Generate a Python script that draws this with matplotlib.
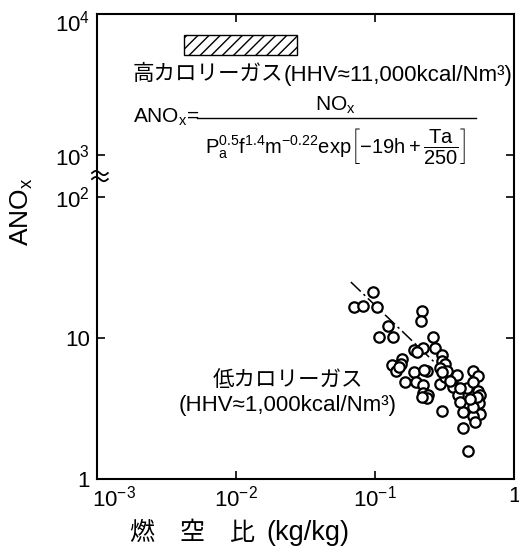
import numpy as np
import matplotlib
matplotlib.use("Agg")
import matplotlib.pyplot as plt
from matplotlib.patches import Rectangle
from matplotlib.ticker import NullLocator
from matplotlib.transforms import ScaledTranslation

plt.rcParams["font.family"] = ["Liberation Sans", "Noto Sans CJK JP"]
plt.rcParams["mathtext.fontset"] = "custom"
plt.rcParams["mathtext.rm"] = "Liberation Sans"
plt.rcParams["mathtext.it"] = "Liberation Sans"
plt.rcParams["mathtext.bf"] = "Liberation Sans:bold"
plt.rcParams["hatch.linewidth"] = 1.0

# --- data -------------------------------------------------------------
# low-calorie gas measurements: fuel/air ratio (kg/kg) vs ANOx
fuel_air = [0.097, 0.071, 0.082, 0.104, 0.125, 0.107, 0.134, 0.219, 0.215,
            0.262, 0.191, 0.223, 0.270, 0.302, 0.302, 0.319, 0.294, 0.156,
            0.132, 0.153, 0.142, 0.164, 0.191, 0.235, 0.197, 0.222, 0.220,
            0.242, 0.235, 0.294, 0.319, 0.356, 0.366, 0.391, 0.397, 0.457,
            0.510, 0.554, 0.510, 0.554, 0.569, 0.562, 0.569, 0.510, 0.524,
            0.428, 0.302, 0.428, 0.465, 0.510, 0.331, 0.409, 0.540, 0.482,
            0.409, 0.302, 0.217, 0.200, 0.148, 0.226, 0.347]
anox = [21.3, 16.6, 16.8, 16.6, 12.1, 10.1, 10.1, 15.5, 13.2,
        10.2, 8.22, 8.44, 8.54, 7.57, 6.84, 6.54, 6.12, 7.15,
        6.47, 6.54, 5.80, 4.85, 5.70, 5.80, 4.85, 4.64, 4.11,
        3.97, 3.76, 4.69, 5.33, 4.91, 4.52, 5.48, 3.93, 4.44,
        5.80, 5.42, 4.85, 4.20, 3.93, 3.48, 2.90, 2.82, 2.52,
        2.98, 3.06, 2.29, 1.59, 3.24, 5.80, 4.39, 3.83, 3.72,
        3.52, 5.73, 3.83, 7.95, 6.20, 5.90, 4.96]

# regression line through the low-calorie data
fit_x = [0.067, 0.63]
fit_y = [25.0, 3.0]

# high-calorie gas range (hatched band)
high_cal_x = [0.0042, 0.0275]
high_cal_y = [5100, 7100]

x_ticks = [1e-3, 1e-2, 1e-1, 1]
x_tick_labels = [r"$10^{-3}$", r"$10^{-2}$", r"$10^{-1}$", "1"]
y_ticks = [1, 10, 100, 1000, 10000]
y_tick_labels = ["1", "10", r"$10^2$", r"$10^3$", r"$10^4$"]

# --- broken log scale: the 10^2..10^3 decade is squeezed ---------------
SQUEEZE = 0.3


def _fwd(y):
    t = np.log10(np.clip(np.asarray(y, dtype=float), 1e-12, None))
    return np.where(t <= 2, t,
                    np.where(t <= 3, 2 + (t - 2) * SQUEEZE, t - (1 - SQUEEZE)))


def _inv(u):
    u = np.asarray(u, dtype=float)
    t = np.where(u <= 2, u,
                 np.where(u <= 2 + SQUEEZE, 2 + (u - 2) / SQUEEZE,
                          u + (1 - SQUEEZE)))
    return 10 ** t


W, H = 519, 554
fig = plt.figure(figsize=(W / 100, H / 100), dpi=100)
ax = fig.add_axes([97 / W, 1 - 479 / H, (514 - 97) / W, (479 - 14) / H])

ax.set_xscale("log")
ax.set_yscale("function", functions=(_fwd, _inv))
ax.set_xlim(1e-3, 1)
ax.set_ylim(1, 1e4)

ax.scatter(fuel_air, anox, s=56, facecolors="white", edgecolors="black",
           linewidths=1.6, zorder=3)
ax.plot(fit_x, fit_y, color="black", lw=1.1,
        linestyle=(0, (9, 2.5, 1.5, 2.5)), zorder=2)

ax.add_patch(Rectangle((high_cal_x[0], high_cal_y[0]),
                       high_cal_x[1] - high_cal_x[0],
                       high_cal_y[1] - high_cal_y[0],
                       facecolor="none", edgecolor="black", lw=1.0,
                       hatch="///"))

ax.set_xticks(x_ticks)
ax.set_xticklabels(x_tick_labels)
ax.set_yticks(y_ticks)
ax.set_yticklabels(y_tick_labels)
ax.xaxis.set_minor_locator(NullLocator())
ax.yaxis.set_minor_locator(NullLocator())
ax.tick_params(which="major", direction="in", length=6, width=1.2,
               top=True, right=True, labelsize=16, pad=5)
for sp in ax.spines.values():
    sp.set_linewidth(1.5)

# nudge the end labels clear of the corner
lab0 = ax.get_xticklabels()[0]
lab0.set_transform(lab0.get_transform() + ScaledTranslation(0.17, 0, fig.dpi_scale_trans))
labtop = ax.get_yticklabels()[-1]
labtop.set_transform(labtop.get_transform() + ScaledTranslation(0, -0.07, fig.dpi_scale_trans))

# axis-break mark on the left spine
yb = float(_fwd(10 ** 2.5)) / float(_fwd(1e4))
wx = np.linspace(-0.012, 0.026, 40)
for dy in (-0.0065, 0.0065):
    wy = yb + dy + 0.0045 * np.sin((wx - wx[0]) / (wx[-1] - wx[0]) * 2 * np.pi)
    ax.plot(wx, wy, color="black", lw=1.3, transform=ax.transAxes,
            clip_on=False, zorder=5)


def ftext(x, y, s, **kw):
    return fig.text(x / W, 1 - y / H, s, **kw)


# axis labels
ftext(22, 212, r"$\mathrm{ANO_x}$", rotation=90,
      ha="center", va="center", fontsize=19)
ftext(130, 533, "燃\u3000空\u3000比", ha="left", va="center", fontsize=18)
ftext(266, 533, "(kg/kg)", ha="left", va="center", fontsize=19.5)

# high-calorie gas annotation
ftext(133, 75, "高カロリーガス", ha="left", va="center", fontsize=15.5)
ftext(284, 75, "(HHV≈11,000kcal/Nm³)", ha="left", va="center", fontsize=16)

# ANOx definition
ftext(133, 117, r"$\mathrm{ANO_x}$=", ha="left", va="center", fontsize=15)
fig.add_artist(plt.Line2D([197 / W, 476 / W], [1 - 118 / H, 1 - 118 / H],
                          color="black", lw=1.0))
ftext(335, 105, r"$\mathrm{NO_x}$", ha="center", va="center", fontsize=15)
ftext(335, 153,
      r"$\mathrm{P_a^{0.5}f^{1.4}m^{-0.22}exp}\left[-19\mathrm{h}+\dfrac{\mathrm{Ta}}{250}\right]$",
      ha="center", va="baseline", fontsize=14.5)

# low-calorie gas annotation
ftext(288, 380, "低カロリーガス", ha="center", va="center", fontsize=15.5)
ftext(288, 405, "(HHV≈1,000kcal/Nm³)", ha="center", va="center", fontsize=16)

fig.savefig("out.png", dpi=100)
